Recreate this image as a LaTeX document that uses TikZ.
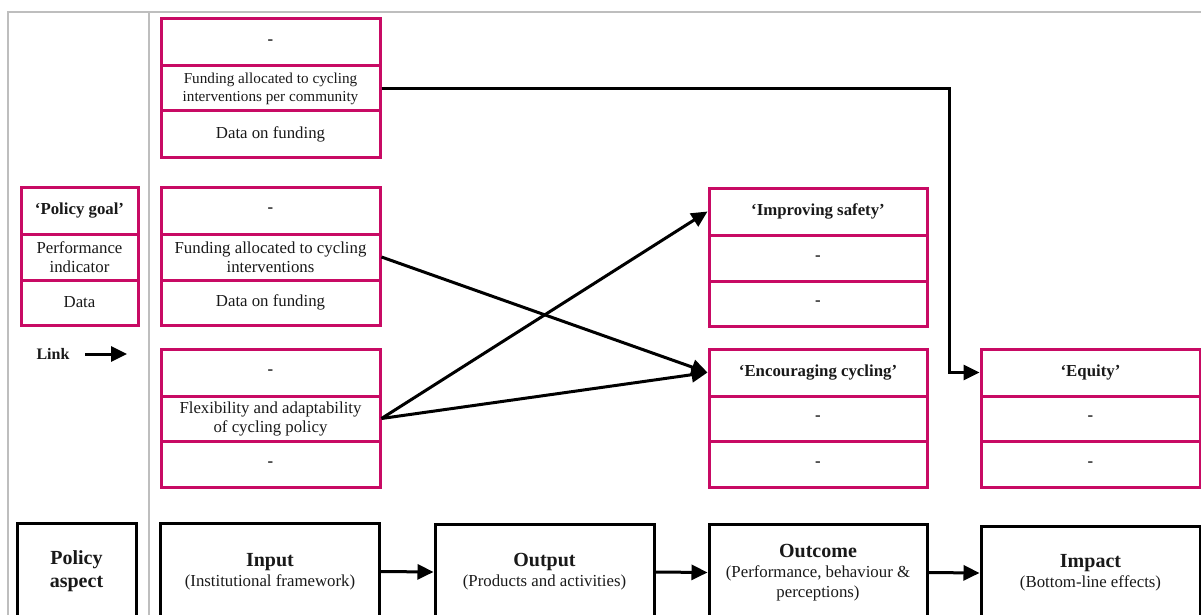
\documentclass[tikz,border=0pt]{standalone}
\usepackage{fontspec}
\setmainfont{Liberation Serif}
\usetikzlibrary{arrows.meta}
\definecolor{mag}{RGB}{200,10,100}
\definecolor{framegray}{RGB}{190,190,190}
\definecolor{ink}{RGB}{25,25,25}
\begin{document}
\begin{tikzpicture}[x=1pt,y=-1pt,
  cell/.style={draw=mag, line width=3pt, minimum width=219pt, inner sep=0pt, align=center, text=ink,
    font=\fontsize{16.8}{19}\selectfont},
  lcell/.style={cell, minimum width=117pt},
  smallcell/.style={cell, font=\fontsize{15.2}{18}\selectfont},
  aspect/.style={draw=black, line width=3pt, minimum width=219pt, inner sep=0pt, align=center, text=ink,
    font=\fontsize{16.8}{20}\selectfont},
  arr/.style={line width=3pt, draw=black, -{Triangle[length=16pt,width=15pt]}},
  gridline/.style={draw=framegray, line width=1.5pt}
]
\useasboundingbox (0,0) rectangle (1201,615);
\clip (0,0) rectangle (1201,615);

% frame
\coordinate (f1) at (1201,12);
\coordinate (f2) at (8,12);
\coordinate (f3) at (8,615);
\coordinate (f4) at (149,12);
\coordinate (f5) at (149,615);
\draw[gridline] (f1) -- (f2) -- (f3);
\draw[gridline] (f4) -- (f5);

% top group
\node[cell, minimum height=47pt] (ta) at (270.5,42.5) {\textbf{-}};
\node[smallcell, minimum height=45pt] (tb) at (270.5,88.5) {Funding allocated to cycling\\interventions per community};
\node[cell, minimum height=46pt] (tc) at (270.5,134) {Data on funding};

% middle group
\node[cell, minimum height=47pt] (ma) at (270.5,210.5) {\textbf{-}};
\node[cell, minimum height=46pt] (mb) at (270.5,257) {Funding allocated to cycling\\interventions};
\node[cell, minimum height=45pt] (mc) at (270.5,302.5) {Data on funding};

% bottom group
\node[cell, minimum height=47pt] (ba) at (270.5,372.5) {\textbf{-}};
\node[cell, minimum height=45pt] (bb) at (270.5,418.5) {Flexibility and adaptability\\of cycling policy};
\node[cell, minimum height=46pt] (bc) at (270.5,464) {\textbf{-}};

% legend
\node[lcell, minimum height=47pt] (la) at (79.5,210.5) {\textbf{‘Policy goal’}};
\node[lcell, minimum height=46pt] (lb) at (79.5,257) {Performance\\indicator};
\node[lcell, minimum height=45pt] (lc) at (79.5,302.5) {Data};
\node[text=ink, font=\bfseries\fontsize{16}{19}\selectfont] (link) at (53,354) {Link};
\coordinate (l1) at (85,354);
\coordinate (l2) at (127,354);
\draw[arr] (l1) -- (l2);

% improving safety
\node[cell, minimum width=218pt, minimum height=47pt] (sa) at (818,211.5) {\textbf{‘Improving safety’}};
\node[cell, minimum width=218pt, minimum height=46pt] (sb) at (818,258) {\textbf{-}};
\node[cell, minimum width=218pt, minimum height=45pt] (sc) at (818,303.5) {\textbf{-}};

% encouraging cycling
\node[cell, minimum width=218pt, minimum height=47pt] (ea) at (818,372.5) {\textbf{‘Encouraging cycling’}};
\node[cell, minimum width=218pt, minimum height=45pt] (eb) at (818,418.5) {\textbf{-}};
\node[cell, minimum width=218pt, minimum height=46pt] (ec) at (818,464) {\textbf{-}};

% equity
\node[cell, minimum height=47pt] (qa) at (1090.5,372.5) {\textbf{‘Equity’}};
\node[cell, minimum height=45pt] (qb) at (1090.5,418.5) {\textbf{-}};
\node[cell, minimum height=46pt] (qc) at (1090.5,464) {\textbf{-}};

% bottom row
\node[aspect, minimum width=119pt, minimum height=97pt, font=\bfseries\fontsize{20}{23}\selectfont] (pa) at (76.5,571.5) {Policy\\aspect};
\node[aspect, minimum height=97pt] (inp) at (270,571.5) {{\bfseries\fontsize{20}{22}\selectfont Input}\\(Institutional framework)};
\node[aspect, minimum height=96pt] (outp) at (544.5,572) {{\bfseries\fontsize{20}{22}\selectfont Output}\\(Products and activities)};
\node[aspect, minimum width=218pt, minimum height=96pt] (outc) at (818,572.5) {{\bfseries\fontsize{20}{22}\selectfont Outcome}\\(Performance, behaviour \&\\perceptions)};
\node[aspect, minimum height=94pt] (imp) at (1090.5,573) {{\bfseries\fontsize{20}{22}\selectfont Impact}\\(Bottom-line effects)};

% connectors
\coordinate (bend) at (949,0);
\draw[arr] (tb.east) -| (bend |- qa.west) -- (qa.west);
\draw[arr] (mb.east) -- (ea.west);
\draw[arr] (bb.east) -- (sa.west);
\draw[arr] (bb.east) -- (ea.west);
\draw[arr] (inp.east) -- (outp.west);
\draw[arr] (outp.east) -- (outc.west);
\draw[arr] (outc.east) -- (imp.west);
\end{tikzpicture}
\end{document}
